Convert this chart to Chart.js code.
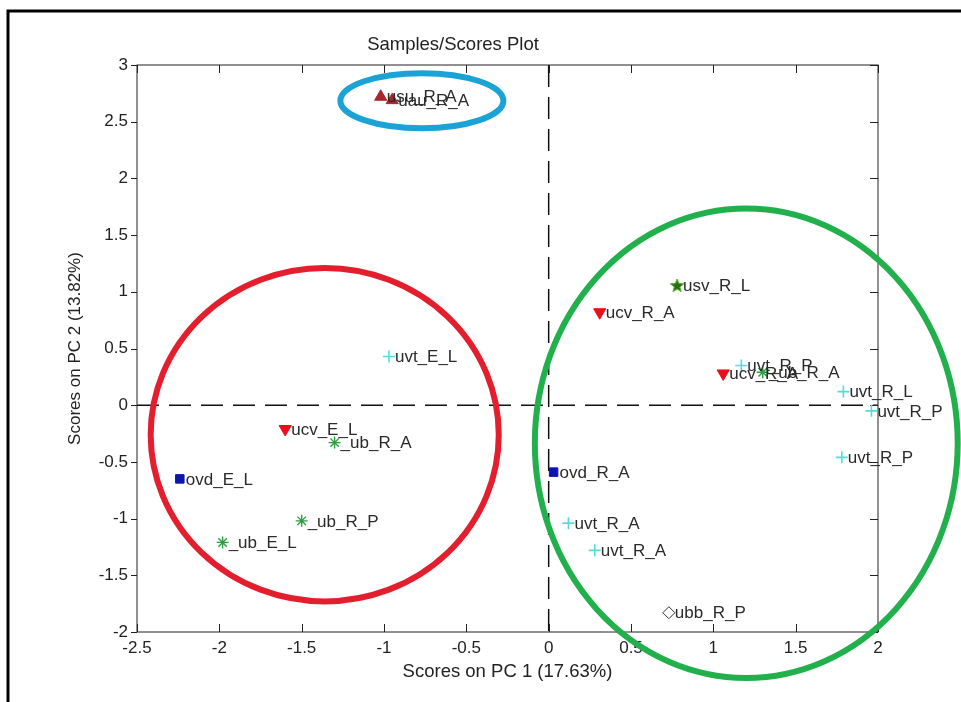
<!DOCTYPE html>
<html>
<head>
<meta charset="utf-8">
<script src="https://cdn.jsdelivr.net/npm/chart.js@4.4.0/dist/chart.umd.min.js"></script>
<style>
  html, body { margin: 0; padding: 0; background: #fff; }
  canvas { display: block; }
</style>
</head>
<body>
<canvas id="chart" width="961" height="702"></canvas>
<script>
// sample scores
var sampleNames = ['usu_R_A', 'uau_R_A', 'usv_R_L', 'ucv_R_A', 'uvt_R_P', 'ucv_R_A', '_ub_R_A',
  'uvt_R_L', 'uvt_R_P', 'uvt_R_P', 'ovd_R_A', 'uvt_R_A', 'uvt_R_A', 'ubb_R_P',
  'uvt_E_L', 'ucv_E_L', '_ub_R_A', 'ovd_E_L', '_ub_R_P', '_ub_E_L'];
var pc1Scores = [-1.02, -0.95, 0.78, 0.31, 1.17, 1.06, 1.30,
  1.79, 1.96, 1.78, 0.03, 0.12, 0.28, 0.73,
  -0.97, -1.60, -1.30, -2.24, -1.50, -1.98];
var pc2Scores = [2.72, 2.69, 1.06, 0.82, 0.35, 0.28, 0.29,
  0.12, -0.05, -0.46, -0.59, -1.04, -1.28, -1.83,
  0.43, -0.21, -0.33, -0.65, -1.02, -1.21];
var sampleClass = ['usu', 'usu', 'usv', 'ucv', 'uvt', 'ucv', 'ub',
  'uvt', 'uvt', 'uvt', 'ovd', 'uvt', 'uvt', 'ubb',
  'uvt', 'ucv', 'ub', 'ovd', 'ub', 'ub'];

var xTicks = [-2.5, -2, -1.5, -1, -0.5, 0, 0.5, 1, 1.5, 2];
var yTicks = [-2, -1.5, -1, -0.5, 0, 0.5, 1, 1.5, 2, 2.5, 3];

// circled groups (centre and radii in score units)
var groupCx = [-0.77, -1.36, 1.20];
var groupCy = [2.685, -0.26, -0.335];
var groupRx = [0.495, 1.057, 1.284];
var groupRy = [0.243, 1.47, 2.07];
var groupColors = ['#1ba3d6', '#e31e2d', '#22b04c'];

var FONT = "'Liberation Sans', Arial, sans-serif";

function makeStar(size, fill) {
  var c = document.createElement('canvas');
  c.width = size; c.height = size;
  var g = c.getContext('2d');
  var r = size / 2, ri = r * 0.42;
  g.beginPath();
  for (var i = 0; i < 10; i++) {
    var rr = i % 2 === 0 ? r : ri;
    var a = -Math.PI / 2 + i * Math.PI / 5;
    g.lineTo(r + rr * Math.cos(a), r + 1 + rr * Math.sin(a));
  }
  g.closePath();
  g.fillStyle = fill;
  g.fill();
  g.strokeStyle = '#4caf2a';
  g.lineWidth = 1;
  g.stroke();
  return c;
}

var styles = {
  usu: { pointStyle: 'triangle', radius: 7, bg: '#a8262c', border: '#a8262c', rotation: 0, bw: 1 },
  usv: { pointStyle: makeStar(14, '#2f6b14'), radius: 7, bg: '#2f6b14', border: '#2f6b14', rotation: 0, bw: 1 },
  ucv: { pointStyle: 'triangle', radius: 7, bg: '#e8101a', border: '#e8101a', rotation: 180, bw: 1 },
  uvt: { pointStyle: 'cross', radius: 6, bg: '#4fdede', border: '#4fdede', rotation: 0, bw: 1.6 },
  ovd: { pointStyle: 'rect', radius: 6, bg: '#0a14b4', border: '#0a14b4', rotation: 0, bw: 1 },
  ub: { pointStyle: 'star', radius: 6, bg: '#2aa040', border: '#2aa040', rotation: 0, bw: 1.4 },
  ubb: { pointStyle: 'rectRot', radius: 6, bg: '#ffffff', border: '#333333', rotation: 0, bw: 1 }
};

var datasets = [];
Object.keys(styles).forEach(function(cls) {
  var st = styles[cls];
  var pts = [];
  for (var i = 0; i < sampleNames.length; i++) {
    if (sampleClass[i] === cls) pts.push({ x: pc1Scores[i], y: pc2Scores[i], name: sampleNames[i] });
  }
  datasets.push({
    label: cls,
    data: pts,
    pointStyle: st.pointStyle,
    pointRadius: st.radius,
    pointRotation: st.rotation,
    backgroundColor: st.bg,
    borderColor: st.border,
    borderWidth: st.bw
  });
});

var plotDecor = {
  id: 'plotDecor',
  beforeDraw: function(chart) {
    var ctx = chart.ctx;
    ctx.save();
    ctx.fillStyle = '#fff';
    ctx.fillRect(0, 0, chart.width, chart.height);
    // figure frame
    ctx.strokeStyle = '#000';
    ctx.lineWidth = 3;
    ctx.beginPath();
    ctx.moveTo(8, chart.height);
    ctx.lineTo(8, 11);
    ctx.lineTo(chart.width, 11);
    ctx.stroke();
    // title
    ctx.fillStyle = '#222';
    ctx.font = '18.5px ' + FONT;
    ctx.textAlign = 'center';
    ctx.textBaseline = 'middle';
    ctx.fillText('Samples/Scores Plot', 453, 45);
    ctx.restore();
  },
  beforeDatasetsDraw: function(chart) {
    var ctx = chart.ctx, a = chart.chartArea;
    var xs = chart.scales.x, ys = chart.scales.y;
    ctx.save();
    // zero lines
    ctx.strokeStyle = '#111';
    ctx.lineWidth = 1.5;
    ctx.setLineDash([22, 10]);
    var x0 = xs.getPixelForValue(0), y0 = ys.getPixelForValue(0);
    ctx.beginPath();
    ctx.moveTo(x0, a.top); ctx.lineTo(x0, a.bottom);
    ctx.moveTo(a.left, y0); ctx.lineTo(a.right, y0);
    ctx.stroke();
    ctx.setLineDash([]);
    // box and ticks
    ctx.strokeStyle = '#222';
    ctx.lineWidth = 1;
    ctx.strokeRect(a.left, a.top, a.right - a.left, a.bottom - a.top);
    ctx.beginPath();
    xTicks.forEach(function(v) {
      var px = Math.round(xs.getPixelForValue(v)) + 0.5;
      ctx.moveTo(px, a.bottom); ctx.lineTo(px, a.bottom - 8);
      ctx.moveTo(px, a.top); ctx.lineTo(px, a.top + 8);
    });
    yTicks.forEach(function(v) {
      var py = Math.round(ys.getPixelForValue(v)) + 0.5;
      ctx.moveTo(a.left - 6, py); ctx.lineTo(a.left, py);
      ctx.moveTo(a.right, py); ctx.lineTo(a.right - 8, py);
    });
    ctx.stroke();
    ctx.restore();
  },
  afterDatasetsDraw: function(chart) {
    var ctx = chart.ctx;
    var xs = chart.scales.x, ys = chart.scales.y;
    ctx.save();
    // sample labels
    ctx.fillStyle = '#2a2a2a';
    ctx.font = '17px ' + FONT;
    ctx.textAlign = 'left';
    ctx.textBaseline = 'middle';
    for (var i = 0; i < sampleNames.length; i++) {
      ctx.fillText(sampleNames[i], xs.getPixelForValue(pc1Scores[i]) + 6, ys.getPixelForValue(pc2Scores[i]) + 1);
    }
    // group ellipses
    ctx.lineWidth = 6;
    for (var k = 0; k < groupCx.length; k++) {
      var cx = xs.getPixelForValue(groupCx[k]), cy = ys.getPixelForValue(groupCy[k]);
      var rx = xs.getPixelForValue(groupCx[k] + groupRx[k]) - cx;
      var ry = cy - ys.getPixelForValue(groupCy[k] + groupRy[k]);
      ctx.strokeStyle = groupColors[k];
      ctx.beginPath();
      ctx.ellipse(cx, cy, rx, ry, 0, 0, Math.PI * 2);
      ctx.stroke();
    }
    ctx.restore();
  }
};

function plainLabel(v) { return String(v); }

new Chart(document.getElementById('chart').getContext('2d'), {
  type: 'scatter',
  data: { datasets: datasets },
  options: {
    responsive: false,
    animation: false,
    events: [],
    layout: { padding: { left: 62, top: 65, right: 83, bottom: 0 } },
    plugins: { legend: { display: false }, tooltip: { enabled: false } },
    scales: {
      x: {
        type: 'linear', min: -2.5, max: 2,
        afterBuildTicks: function(s) { s.ticks = xTicks.map(function(v) { return { value: v }; }); },
        afterFit: function(s) { s.height = 70; },
        ticks: { color: '#222', font: { family: FONT, size: 17 }, padding: 6, maxRotation: 0, autoSkip: false, callback: plainLabel },
        grid: { drawOnChartArea: false, drawTicks: false },
        border: { display: false },
        title: { display: true, text: 'Scores on PC 1 (17.63%)', color: '#222', font: { family: FONT, size: 18.5 }, padding: { top: 0, bottom: 19 } }
      },
      y: {
        type: 'linear', min: -2, max: 3,
        afterBuildTicks: function(s) { s.ticks = yTicks.map(function(v) { return { value: v }; }); },
        afterFit: function(s) { s.width = 75; },
        ticks: { color: '#222', font: { family: FONT, size: 17 }, padding: 9, autoSkip: false, callback: plainLabel },
        grid: { drawOnChartArea: false, drawTicks: false },
        border: { display: false },
        title: { display: true, text: 'Scores on PC 2 (13.82%)', color: '#222', font: { family: FONT, size: 17 }, padding: { top: 3, bottom: 0 } }
      }
    }
  },
  plugins: [plotDecor]
});
</script>
</body>
</html>
